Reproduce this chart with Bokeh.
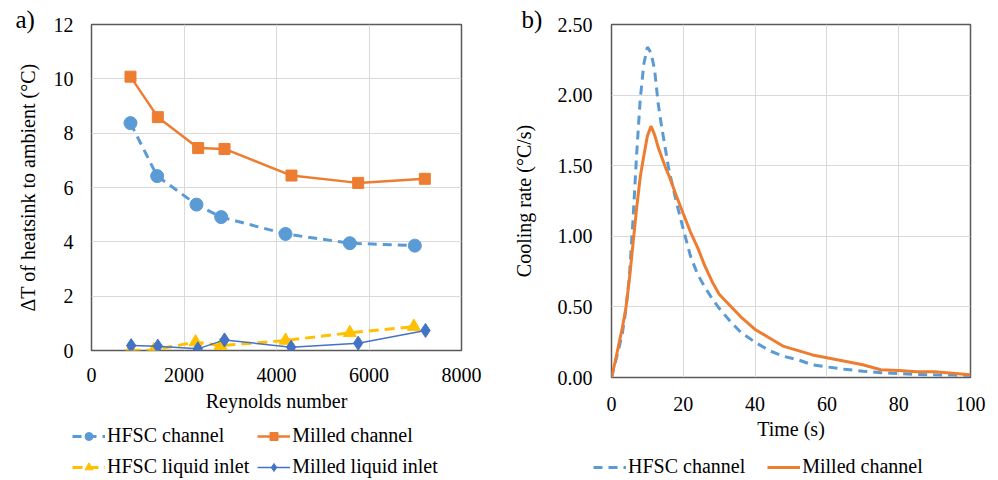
import math
from bokeh.plotting import figure
from bokeh.layouts import row, column
from bokeh.models import (Range1d, FixedTicker, NumeralTickFormatter, Legend,
                          LegendItem)
from bokeh.embed import file_html
from bokeh.resources import INLINE

# ---------------- data: panel a ----------------
hfsc_re = [843, 1420, 2270, 2804, 4195, 5586, 6991]
hfsc_dt = [8.37, 6.42, 5.37, 4.91, 4.29, 3.95, 3.86]
milled_re = [843, 1434, 2306, 2876, 4324, 5766, 7207]
milled_dt = [10.08, 8.59, 7.45, 7.42, 6.44, 6.17, 6.32]
hfsc_inlet_re = [843, 1347, 2249, 2789, 4195, 5586, 6970]
hfsc_inlet_dt = [0.0, 0.02, 0.31, 0.18, 0.37, 0.65, 0.88]
milled_inlet_re = [858, 1434, 2299, 2876, 4317, 5766, 7222]
milled_inlet_dt = [0.18, 0.16, 0.06, 0.39, 0.12, 0.27, 0.74]
a_xticks = [0, 2000, 4000, 6000, 8000]
a_yticks = [0, 2, 4, 6, 8, 10, 12]
a_names = ["HFSC channel", "Milled channel", "HFSC liquid inlet",
           "Milled liquid inlet"]

# ---------------- data: panel b ----------------
time_s = [0, 1, 2, 3, 4, 5, 6, 7, 8, 9, 10, 11, 12, 13, 14, 15, 16, 18, 20,
          22, 24, 26, 28, 30, 33, 36, 40, 44, 48, 52, 56, 60, 65, 70, 75, 80,
          85, 90, 95, 100]
hfsc_rate = [0.00, 0.10, 0.20, 0.31, 0.48, 0.72, 1.12, 1.58, 1.97, 2.22, 2.34,
             2.30, 2.18, 1.94, 1.77, 1.62, 1.47, 1.25, 1.05, 0.86, 0.73, 0.64,
             0.56, 0.49, 0.40, 0.32, 0.25, 0.19, 0.15, 0.125, 0.09, 0.075,
             0.058, 0.045, 0.034, 0.027, 0.022, 0.019, 0.017, 0.015]
milled_rate = [0.00, 0.11, 0.23, 0.35, 0.49, 0.70, 0.95, 1.20, 1.42, 1.57, 1.71,
               1.78, 1.72, 1.63, 1.56, 1.49, 1.43, 1.29, 1.16, 1.03, 0.92, 0.79,
               0.68, 0.59, 0.51, 0.43, 0.34, 0.28, 0.22, 0.19, 0.16, 0.14,
               0.115, 0.09, 0.055, 0.05, 0.04, 0.04, 0.03, 0.02]
b_xticks = [0, 20, 40, 60, 80, 100]
b_yticks = [0, 0.5, 1.0, 1.5, 2.0, 2.5]
b_names = ["HFSC channel", "Milled channel"]

FONT = "Liberation Serif"
BLUE = "#5B9BD5"
ORANGE = "#ED7D31"
YELLOW = "#FFC000"
DBLUE = "#4472C4"

# line / marker styles for each series
a_styles = [
    dict(color=BLUE, width=3, dash="9 6", marker="circle", size=13),
    dict(color=ORANGE, width=2.5, dash="solid", marker="square", size=11),
    dict(color=YELLOW, width=3, dash="10 6", marker="triangle", size=13),
    dict(color=DBLUE, width=1.5, dash="solid", marker="diamond", size=14),
]
b_styles = [
    dict(color=BLUE, width=3, dash="9 6"),
    dict(color=ORANGE, width=3, dash="solid"),
]


def style(p, panel_label, label_offset):
    p.outline_line_color = "#595959"
    p.outline_line_width = 1.5
    p.background_fill_color = "white"
    p.border_fill_color = "white"
    for g in (p.xgrid, p.ygrid):
        g.grid_line_color = "#d9d9d9"
        g.grid_line_width = 1
    for ax in (p.xaxis, p.yaxis):
        ax.axis_line_color = None
        ax.major_tick_line_color = None
        ax.minor_tick_line_color = None
        ax.major_tick_out = 0
        ax.major_tick_in = 0
        ax.minor_tick_out = 0
        ax.minor_tick_in = 0
        ax.major_label_text_font = FONT
        ax.major_label_text_font_size = "20px"
        ax.major_label_text_color = "#000000"
        ax.axis_label_text_font = FONT
        ax.axis_label_text_font_size = "20px"
        ax.axis_label_text_font_style = "normal"
        ax.axis_label_text_color = "#000000"
    p.title.text = panel_label
    p.title.text_font = FONT
    p.title.text_font_size = "25px"
    p.title.text_font_style = "normal"
    p.title.text_color = "#000000"
    p.title.align = "left"
    p.title.offset = label_offset
    p.title.standoff = -16


def legend_fig(width, height, names, styles, loc, ncols, spacing):
    # legend-only figure: proxy renderers hold a single NaN point (invisible)
    f = figure(width=width, height=height, output_backend="svg",
               toolbar_location=None, x_axis_location=None,
               y_axis_location=None, min_border=0, frame_align=False,
               x_range=Range1d(0, 1), y_range=Range1d(0, 1))
    f.outline_line_color = None
    f.xgrid.visible = False
    f.ygrid.visible = False
    nan = [math.nan]
    items = []
    for name, st in zip(names, styles):
        rs = [f.line(x=nan, y=nan, line_color=st["color"],
                     line_width=st["width"], line_dash=st["dash"])]
        if "marker" in st:
            rs.append(f.scatter(x=nan, y=nan, marker=st["marker"],
                                size=st["size"], fill_color=st["color"],
                                line_color=st["color"]))
        items.append(LegendItem(label=name, renderers=rs))
    lg = Legend(items=items, location=loc, orientation="horizontal",
                ncols=ncols)
    lg.background_fill_alpha = 0
    lg.border_line_color = None
    lg.padding = 0
    lg.margin = 0
    lg.spacing = spacing
    lg.label_standoff = 2
    lg.glyph_width = 33
    lg.glyph_height = 20
    lg.label_height = 20
    lg.label_text_font = FONT
    lg.label_text_font_size = "20px"
    lg.label_text_color = "#000000"
    f.add_layout(lg, "center")
    return f


# ---------------- panel a ----------------
p1 = figure(width=498, height=420, output_backend="svg", toolbar_location=None,
            x_range=Range1d(0, 8000), y_range=Range1d(0, 12),
            min_border_left=91, min_border_right=37, min_border_top=24,
            min_border_bottom=70, frame_align=False)
style(p1, "a)", -76)
p1.xaxis.ticker = FixedTicker(ticks=a_xticks)
p1.yaxis.ticker = FixedTicker(ticks=a_yticks)
p1.xaxis.axis_label = "Reynolds number"
p1.yaxis.axis_label = "ΔT of heatsink to ambient (°C)"
p1.xaxis.major_label_standoff = 17
p1.xaxis.axis_label_standoff = 5
p1.yaxis.major_label_standoff = 18
p1.yaxis.axis_label_standoff = 12

a_x = [hfsc_re, milled_re, hfsc_inlet_re, milled_inlet_re]
a_y = [hfsc_dt, milled_dt, hfsc_inlet_dt, milled_inlet_dt]
for xs, ys, st in zip(a_x, a_y, a_styles):
    p1.line(xs, ys, line_color=st["color"], line_width=st["width"],
            line_dash=st["dash"])
    p1.scatter(xs, ys, marker=st["marker"], size=st["size"],
               fill_color=st["color"], line_color=st["color"])

lf1 = legend_fig(498, 58, a_names, a_styles, (72, 0), 2, 8)

# ---------------- panel b ----------------
p2 = figure(width=500, height=447, output_backend="svg", toolbar_location=None,
            x_range=Range1d(0, 100), y_range=Range1d(0, 2.5),
            min_border_left=113, min_border_right=28, min_border_top=24,
            min_border_bottom=70, frame_align=False)
style(p2, "b)", -90)
p2.xaxis.ticker = FixedTicker(ticks=b_xticks)
p2.yaxis.ticker = FixedTicker(ticks=b_yticks)
p2.yaxis.formatter = NumeralTickFormatter(format="0.00")
p2.xaxis.axis_label = "Time (s)"
p2.yaxis.axis_label = "Cooling rate (°C/s)"
p2.xaxis.major_label_standoff = 19
p2.xaxis.axis_label_standoff = 4
p2.yaxis.major_label_standoff = 19
p2.yaxis.axis_label_standoff = 20

for ys, st in zip([hfsc_rate, milled_rate], b_styles):
    p2.line(time_s, ys, line_color=st["color"], line_width=st["width"],
            line_dash=st["dash"])

lf2 = legend_fig(500, 31, b_names, b_styles, (95, 0), 2, 22)

layout = row(column(p1, lf1), column(p2, lf2))
open("out.html", "w").write(file_html(layout, INLINE))
